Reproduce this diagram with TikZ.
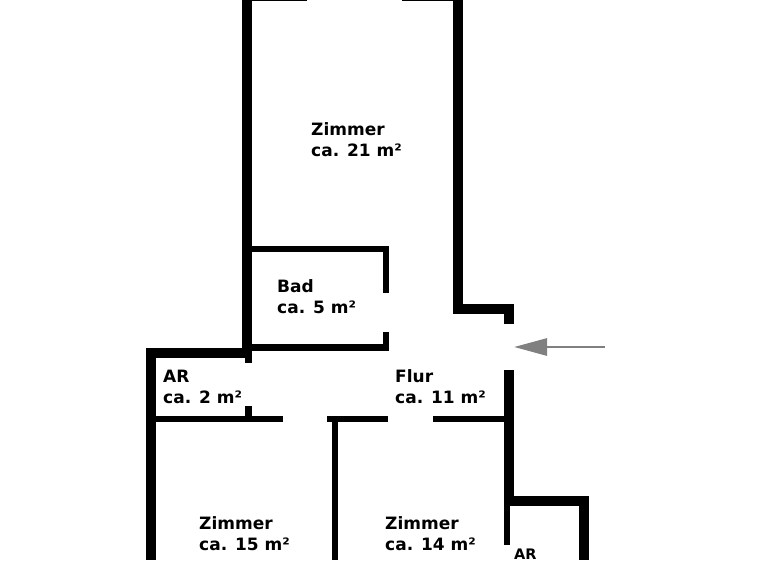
\documentclass[tikz,border=0pt]{standalone}
\usepackage{fontspec}
\setmainfont{DejaVu Sans}
\usetikzlibrary{arrows.meta}
\tikzset{
  wall/.style={line width=10pt,miter limit=10},
  thinwall/.style={line width=6.5pt,miter limit=10},
  room/.style={anchor=base west,align=left,inner sep=0pt,font=\fontsize{17}{20.3}\selectfont\bfseries},
  smallroom/.style={anchor=base west,inner sep=0pt,font=\fontsize{14.5}{17}\selectfont\bfseries},
  entry/.style={draw=gray,line width=2.8pt,-{Triangle[length=33pt,width=17pt]}}
}
\begin{document}
\begin{tikzpicture}[x=1pt,y=-1pt]
\useasboundingbox (0,0) rectangle (768,560);

% outer walls
\draw [wall] (247,0) -- (247,353) -- (151,353) -- (151,560);
\draw [wall] (458,0) -- (458,309) -- (509,309) -- (509,324);
\draw [wall] (509,370) -- (509,501) -- (584,501) -- (584,560);
\draw [thinwall,line width=6pt] (507,496) -- (507,545);

% top edge
\draw [line width=1.5pt] (252,0) -- (307,0);
\draw [line width=1.5pt] (402,0) -- (453,0);

% bad
\draw [thinwall] (252,249) -- (386,249) -- (386,293);
\draw [thinwall] (386,332) -- (386,347.5) -- (252,347.5);

% stubs at AR
\draw [thinwall] (248.5,358) -- (248.5,363);
\draw [thinwall] (248.5,406) -- (248.5,416);

% corridor wall
\draw [thinwall] (156,419) -- (283,419);
\draw [thinwall] (327,419) -- (388,419);
\draw [thinwall] (433,419) -- (504,419);
\draw [thinwall] (335,422) -- (335,560);

% entrance
\coordinate (outside) at (605,347);
\coordinate (door) at (514,347);
\draw [entry] (outside) -- (door);

\node (zimmera) [room] at (311,156) {Zimmer\\ca. 21 m²};
\node (bad) [room] at (277,313) {Bad\\ca. 5 m²};
\node (ara) [room] at (163,403) {AR\\ca. 2 m²};
\node (flur) [room] at (395,403) {Flur\\ca. 11 m²};
\node (zimmerb) [room] at (199,550) {Zimmer\\ca. 15 m²};
\node (zimmerc) [room] at (385,550) {Zimmer\\ca. 14 m²};
\node (arb) [smallroom] at (514,559.5) {AR};

\end{tikzpicture}
\end{document}
